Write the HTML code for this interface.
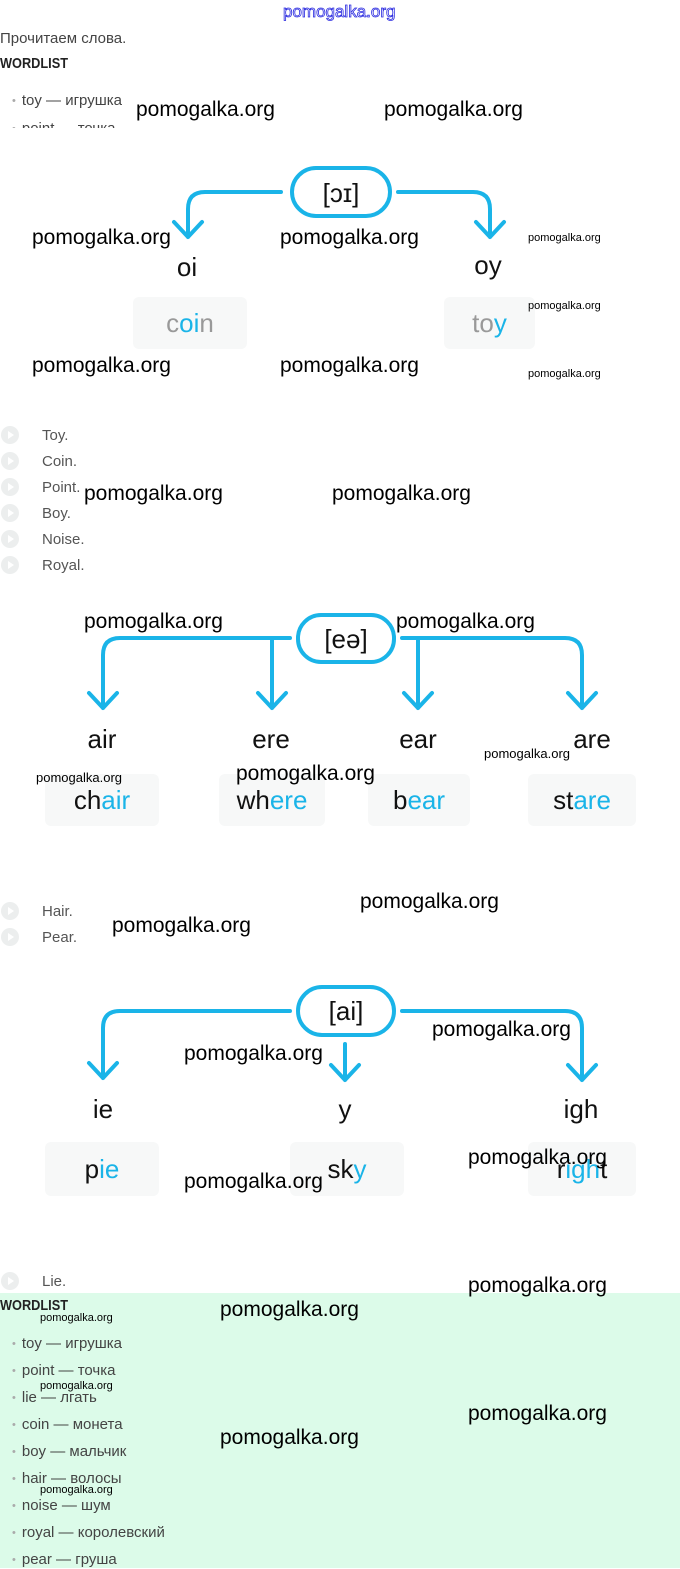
<!DOCTYPE html>
<html><head><meta charset="utf-8"><style>
body{margin:0;width:680px;height:1568px;position:relative;background:#fff;font-family:"Liberation Sans",sans-serif;overflow:hidden}
.a{position:absolute;white-space:nowrap}
.w{position:absolute;white-space:nowrap;font-size:21px;line-height:24px;color:#000;font-family:"Liberation Sans",sans-serif}
.s{position:absolute;white-space:nowrap;font-size:11px;line-height:12px;color:#000}
.lab{position:absolute;font-size:26px;line-height:30px;color:#111;transform:translateX(-50%)}
.box{position:absolute;background:#f7f8f8;border-radius:6px;font-size:26px;display:flex;align-items:center;justify-content:center;color:#111}
.box b{font-weight:normal;color:#1ab4e8}
.au{position:absolute;left:1px;width:18px;height:18px;border-radius:50%;background:#eceeee}
.au:after{content:"";position:absolute;left:7px;top:5px;border-left:6px solid #fff;border-top:4px solid transparent;border-bottom:4px solid transparent}
.at{position:absolute;left:42px;font-size:15px;color:#555;line-height:18px}
.li{position:absolute;left:12px;font-size:15px;color:#444;line-height:18px}
.li:before{content:"•";color:#aaa;font-size:11px;margin-right:6px;vertical-align:1px}
</style></head><body>
<div class="a" style="left:283px;top:2px;font-size:17px;color:#fff;-webkit-text-stroke:0.8px #2a2ae0;">pomogalka.org</div>
<div class="a" style="left:0;top:30px;font-size:15px;color:#444">Прочитаем слова.</div>
<div class="a" style="left:0;top:55px;font-size:15px;font-weight:bold;color:#222;transform:scaleX(0.85);transform-origin:left">WORDLIST</div>
<div class="li" style="top:92px">toy — игрушка</div>
<div style="position:absolute;left:0;top:118px;width:140px;height:10px;overflow:hidden"><div class="li" style="top:2px">point — точка</div></div>

<svg width="680" height="1568" style="position:absolute;left:0;top:0" fill="none" stroke="#1ab4e8" stroke-width="4" stroke-linecap="round" stroke-linejoin="round">
<rect x="292" y="168" width="98" height="48" rx="24"/>
<path d="M281 192H205Q188 192 188 209V237M174 222L188 237L202 222"/>
<path d="M398 192H473Q490 192 490 209V237M476 222L490 237L504 222"/>
<rect x="298" y="615" width="96" height="47" rx="23"/>
<path d="M290 638H120Q103 638 103 655V708M89 693L103 708L117 693"/>
<path d="M272 638V708M258 693L272 708L286 693"/>
<path d="M402 638H565Q582 638 582 655V708M568 693L582 708L596 693"/>
<path d="M418 638V708M404 693L418 708L432 693"/>
<rect x="298" y="987" width="96" height="48" rx="24"/>
<path d="M290 1011H120Q103 1011 103 1028V1078M89 1063L103 1078L117 1063"/>
<path d="M402 1011H565Q582 1011 582 1028V1080M568 1065L582 1080L596 1065"/>
<path d="M345 1044V1080M331 1065L345 1080L359 1065"/>
</svg>
<div class="a" style="left:341px;top:178px;font-size:26px;transform:translateX(-50%);color:#111">[ɔɪ]</div>
<div class="a" style="left:346px;top:624px;font-size:26px;transform:translateX(-50%);color:#111">[eə]</div>
<div class="a" style="left:346px;top:996px;font-size:26px;transform:translateX(-50%);color:#111">[ai]</div>

<div class="lab" style="left:187px;top:252px">oi</div>
<div class="lab" style="left:488px;top:250px">oy</div>
<div class="box" style="left:133px;top:297px;width:114px;height:52px;color:#999">c<b>oi</b>n</div>
<div class="box" style="left:444px;top:297px;width:91px;height:52px;color:#999">to<b>y</b></div>

<div class="au" style="top:426px"></div><div class="at" style="top:427px">Toy.</div>
<div class="au" style="top:452px"></div><div class="at" style="top:453px">Coin.</div>
<div class="au" style="top:478px"></div><div class="at" style="top:479px">Point.</div>
<div class="au" style="top:504px"></div><div class="at" style="top:505px">Boy.</div>
<div class="au" style="top:530px"></div><div class="at" style="top:531px">Noise.</div>
<div class="au" style="top:556px"></div><div class="at" style="top:557px">Royal.</div>

<div class="lab" style="left:102px;top:724px">air</div>
<div class="lab" style="left:271px;top:724px">ere</div>
<div class="lab" style="left:418px;top:724px">ear</div>
<div class="lab" style="left:592px;top:724px">are</div>
<div class="box" style="left:45px;top:774px;width:114px;height:52px">ch<b>air</b></div>
<div class="box" style="left:219px;top:774px;width:106px;height:52px">wh<b>ere</b></div>
<div class="box" style="left:368px;top:774px;width:102px;height:52px">b<b>ear</b></div>
<div class="box" style="left:528px;top:774px;width:108px;height:52px">st<b>are</b></div>

<div class="au" style="top:902px"></div><div class="at" style="top:903px">Hair.</div>
<div class="au" style="top:928px"></div><div class="at" style="top:929px">Pear.</div>

<div class="lab" style="left:103px;top:1094px">ie</div>
<div class="lab" style="left:345px;top:1094px">y</div>
<div class="lab" style="left:581px;top:1094px">igh</div>
<div class="box" style="left:45px;top:1142px;width:114px;height:54px">p<b>ie</b></div>
<div class="box" style="left:290px;top:1142px;width:114px;height:54px">sk<b>y</b></div>
<div class="box" style="left:528px;top:1142px;width:108px;height:54px">r<b>igh</b>t</div>

<div class="au" style="top:1272px"></div><div class="at" style="top:1273px">Lie.</div>

<div style="position:absolute;left:0;top:1293px;width:680px;height:275px;background:#dcfbe9"></div>
<div class="a" style="left:0;top:1297px;font-size:15px;font-weight:bold;color:#222;transform:scaleX(0.85);transform-origin:left">WORDLIST</div>
<div class="li" style="top:1335px">toy — игрушка</div>
<div class="li" style="top:1362px">point — точка</div>
<div class="li" style="top:1389px">lie — лгать</div>
<div class="li" style="top:1416px">coin — монета</div>
<div class="li" style="top:1443px">boy — мальчик</div>
<div class="li" style="top:1470px">hair — волосы</div>
<div class="li" style="top:1497px">noise — шум</div>
<div class="li" style="top:1524px">royal — королевский</div>
<div class="li" style="top:1551px">pear — груша</div>

<div class="w" style="left:136px;top:98px">pomogalka.org</div>
<div class="w" style="left:384px;top:98px">pomogalka.org</div>
<div class="w" style="left:32px;top:226px">pomogalka.org</div>
<div class="w" style="left:280px;top:226px">pomogalka.org</div>
<div class="w" style="left:32px;top:354px">pomogalka.org</div>
<div class="w" style="left:280px;top:354px">pomogalka.org</div>
<div class="w" style="left:84px;top:482px">pomogalka.org</div>
<div class="w" style="left:332px;top:482px">pomogalka.org</div>
<div class="w" style="left:84px;top:610px">pomogalka.org</div>
<div class="w" style="left:396px;top:610px">pomogalka.org</div>
<div class="w" style="left:236px;top:762px">pomogalka.org</div>
<div class="w" style="left:360px;top:890px">pomogalka.org</div>
<div class="w" style="left:112px;top:914px">pomogalka.org</div>
<div class="w" style="left:432px;top:1018px">pomogalka.org</div>
<div class="w" style="left:184px;top:1042px">pomogalka.org</div>
<div class="w" style="left:468px;top:1146px">pomogalka.org</div>
<div class="w" style="left:184px;top:1170px">pomogalka.org</div>
<div class="w" style="left:468px;top:1274px">pomogalka.org</div>
<div class="w" style="left:220px;top:1298px">pomogalka.org</div>
<div class="w" style="left:468px;top:1402px">pomogalka.org</div>
<div class="w" style="left:220px;top:1426px">pomogalka.org</div>
<div class="s" style="left:528px;top:232px">pomogalka.org</div>
<div class="s" style="left:528px;top:300px">pomogalka.org</div>
<div class="s" style="left:528px;top:368px">pomogalka.org</div>
<div class="s" style="left:36px;top:772px;font-size:13px">pomogalka.org</div>
<div class="s" style="left:484px;top:748px;font-size:13px">pomogalka.org</div>
<div class="s" style="left:40px;top:1312px">pomogalka.org</div>
<div class="s" style="left:40px;top:1380px">pomogalka.org</div>
<div class="s" style="left:40px;top:1484px">pomogalka.org</div>
</body></html>
